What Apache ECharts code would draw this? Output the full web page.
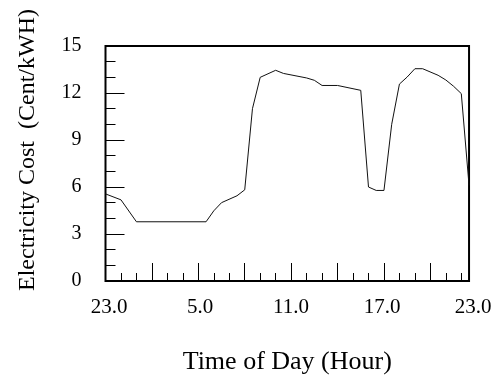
<!DOCTYPE html>
<html>
<head>
<meta charset="utf-8">
<script src="https://cdn.jsdelivr.net/npm/echarts@6/dist/echarts.min.js"></script>
<style>
html,body{margin:0;padding:0;background:#fff;}
#chart{width:496px;height:383px;}
</style>
</head>
<body>
<div id="chart"></div>
<script>
// hours after 23:00
const hours = [0, 1, 2, 6.5, 7, 7.5, 8.5, 9, 9.5, 10, 11, 11.5, 13, 13.5, 14, 15, 16.5, 17, 17.5, 18, 18.5, 19, 19.5, 20, 20.5, 21.5, 22, 22.5, 23, 23.5];
const cost = [5.56, 5.18, 3.78, 3.78, 4.48, 5.0, 5.44, 5.82, 11.0, 13.0, 13.45, 13.25, 12.96, 12.81, 12.48, 12.48, 12.17, 6.0, 5.78, 5.78, 10.0, 12.57, 13.02, 13.55, 13.55, 13.13, 12.83, 12.43, 11.96, 6.1];
const xTickLabels = ['23.0', '5.0', '11.0', '17.0', '23.0'];
const xLabelPositions = [0, 6, 12, 18, 24];
const xMajorTicks = [3, 6, 9, 12, 15, 18, 21];
const xMinorTicks = [1, 2, 4, 5, 7, 8, 10, 11, 13, 14, 16, 17, 19, 20, 22, 23];
const yTickLabels = ['0', '3', '6', '9', '12', '15'];
const xTitle = 'Time of Day (Hour)';
const yTitle = 'Electricity Cost  (Cent/kWH)';

const FONT = '"Liberation Serif", "Times New Roman", serif';
const chart = echarts.init(document.getElementById('chart'), null, {renderer: 'canvas'});
const pxPerHour = 15.47;
const gridLeft = 105.5, gridTop = 46, gridH = 235;

chart.setOption({
  animation: false,
  backgroundColor: '#fff',
  graphic: [{
    type: 'text', x: 28, y: 150, rotation: Math.PI / 2, silent: true,
    style: {
      text: yTitle, fontFamily: FONT, fontSize: 24, fill: '#000',
      align: 'center', verticalAlign: 'middle', textAlign: 'center', textVerticalAlign: 'middle'
    }
  }],
  grid: [
    {left: gridLeft, top: gridTop, width: pxPerHour * 23.5, height: gridH, show: true, borderColor: '#000', borderWidth: 2, backgroundColor: 'transparent'},
    {left: 109, top: gridTop, width: 364, height: gridH, show: false}
  ],
  xAxis: [
    {
      type: 'value', gridIndex: 0, min: 0, max: 23.5, position: 'bottom',
      axisLine: {show: false},
      axisTick: {show: true, inside: true, length: 18, customValues: xMajorTicks, lineStyle: {color: '#000', width: 1}},
      axisLabel: {show: false},
      splitLine: {show: false},
      name: xTitle, nameLocation: 'middle', nameGap: 68,
      nameTextStyle: {fontFamily: FONT, fontSize: 26, color: '#000'}
    },
    {
      type: 'value', gridIndex: 0, min: 0, max: 23.5, position: 'bottom', offset: 0,
      axisLine: {show: false},
      axisTick: {show: true, inside: true, length: 8, customValues: xMinorTicks, lineStyle: {color: '#000', width: 1}},
      axisLabel: {show: false},
      splitLine: {show: false}
    },
    {
      type: 'value', gridIndex: 1, min: 0, max: 24, position: 'bottom',
      axisLine: {show: false},
      axisTick: {show: false},
      axisLabel: {
        show: true, margin: 16, customValues: xLabelPositions,
        fontFamily: FONT, fontSize: 21, color: '#000',
        formatter: function (v) { const i = xLabelPositions.indexOf(v); return i >= 0 ? xTickLabels[i] : ''; }
      },
      splitLine: {show: false}
    }
  ],
  yAxis: [
    {
      type: 'value', gridIndex: 0, min: 0, max: 15, interval: 3,
      axisLine: {show: false},
      axisTick: {show: true, inside: true, length: 19, lineStyle: {color: '#000', width: 1}},
      minorTick: {show: true, splitNumber: 3, length: 10, lineStyle: {color: '#000', width: 1}},
      axisLabel: {
        margin: 24, fontFamily: FONT, fontSize: 20, color: '#000',
        formatter: function (v) { return yTickLabels[Math.round(v / 3)]; }
      },
      splitLine: {show: false},
      minorSplitLine: {show: false}
    },
    {
      type: 'value', gridIndex: 1, min: 0, max: 15, show: false
    }
  ],
  series: [{
    type: 'line',
    xAxisIndex: 0, yAxisIndex: 0,
    data: hours.map((h, i) => [h, cost[i]]),
    showSymbol: false, symbol: 'none',
    lineStyle: {color: '#111', width: 1},
    clip: true
  }]
});
</script>
</body>
</html>
